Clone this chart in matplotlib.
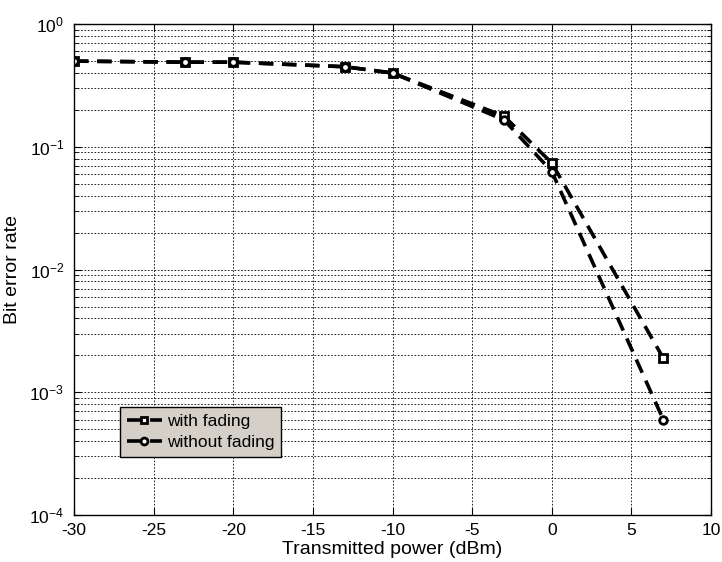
import matplotlib
matplotlib.use('Agg')
import matplotlib.pyplot as plt
from matplotlib.ticker import LogLocator, NullFormatter

plt.rcParams['font.family'] = ['Liberation Sans', 'DejaVu Sans']
plt.rcParams['mathtext.fontset'] = 'custom'
plt.rcParams['mathtext.rm'] = 'Liberation Sans'
plt.rcParams['mathtext.it'] = 'Liberation Sans:italic'
plt.rcParams['axes.unicode_minus'] = False

power = [-30, -23, -20, -13, -10, -3, 0, 7]
ber_fading = [0.50, 0.49, 0.49, 0.45, 0.40, 0.178, 0.074, 1.9e-3]
ber_no_fading = [0.50, 0.49, 0.49, 0.45, 0.40, 0.166, 0.063, 6.0e-4]
x_ticks = [-30, -25, -20, -15, -10, -5, 0, 5, 10]

fig = plt.figure(figsize=(7.22, 5.62), dpi=100)
ax = fig.add_axes([0.1025, 0.0836, 0.8823, 0.8734])

dash = (0, (4, 2.4))
ax.semilogy(power, ber_fading, color='black', lw=2.6, linestyle=dash,
            marker='s', markersize=5.5, markerfacecolor='white',
            markeredgecolor='black', markeredgewidth=2.0, label='with fading')
ax.semilogy(power, ber_no_fading, color='black', lw=2.6, linestyle=dash,
            marker='o', markersize=5.5, markerfacecolor='white',
            markeredgecolor='black', markeredgewidth=2.0, label='without fading')

ax.set_xlim(-30, 10)
ax.set_ylim(1e-4, 1)
ax.set_xticks(x_ticks)
ax.yaxis.set_major_locator(LogLocator(base=10, numticks=10))
ax.yaxis.set_minor_locator(LogLocator(base=10, subs=range(2, 10), numticks=20))
ax.yaxis.set_minor_formatter(NullFormatter())

grid_style = dict(color='black', linestyle=(0, (2, 2)), linewidth=0.6)
ax.grid(True, which='major', axis='both', **grid_style)
ax.grid(True, which='minor', axis='y', **grid_style)

ax.tick_params(which='both', direction='in', top=True, right=True, labelsize=12.5)
ax.tick_params(axis='x', which='major', pad=6)
ax.tick_params(axis='y', which='major', pad=7)
ax.tick_params(which='major', length=5)
ax.tick_params(which='minor', length=3)
for sp in ax.spines.values():
    sp.set_linewidth(1.0)

ax.set_xlabel('Transmitted power (dBm)', fontsize=14, labelpad=2)
ax.set_ylabel('Bit error rate', fontsize=14, labelpad=6)

leg = ax.legend(loc='lower left', bbox_to_anchor=(0.072, 0.118), fontsize=12.5,
                handlelength=2.0, handletextpad=0.3, borderpad=0.4,
                labelspacing=0.35, fancybox=False, framealpha=1,
                borderaxespad=0, markerscale=0.9)
leg.get_frame().set_facecolor('#d4d0c8')
leg.get_frame().set_edgecolor('black')
leg.get_frame().set_linewidth(1.0)

fig.savefig('out.png', dpi=100)
